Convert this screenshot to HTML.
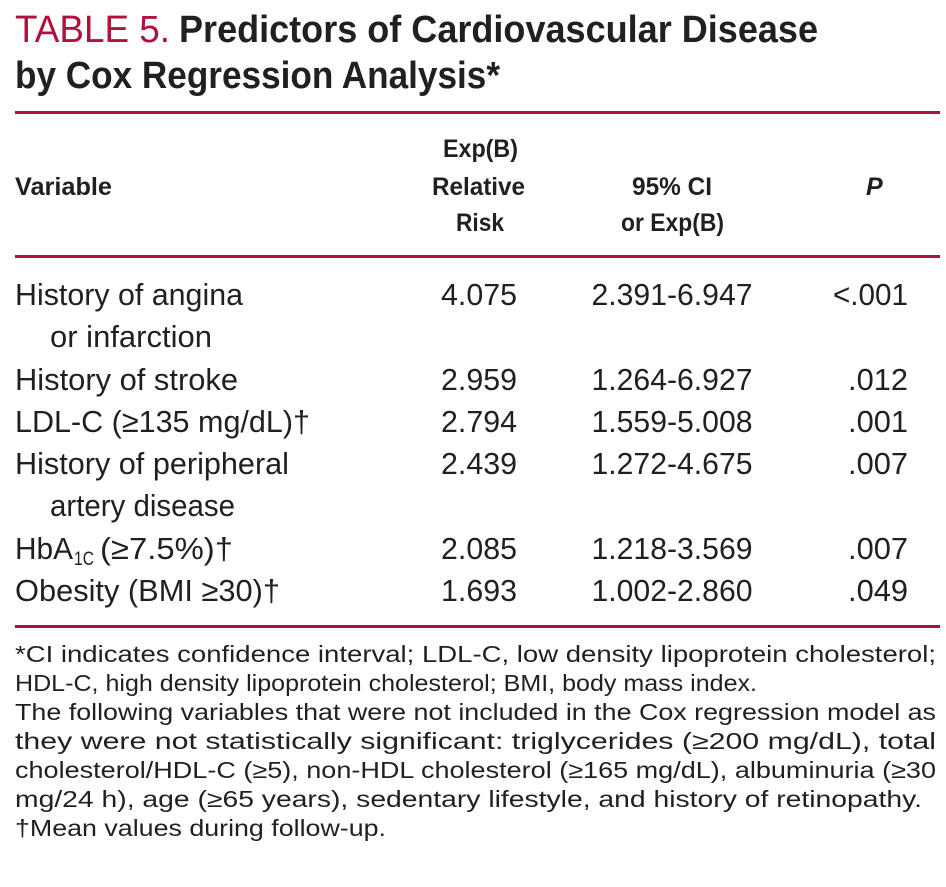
<!DOCTYPE html>
<html><head><meta charset="utf-8"><style>
html,body{margin:0;padding:0;background:#fff}
svg{display:block}
text{font-family:"Liberation Sans",sans-serif;fill:#231f20}
.b{font-weight:bold}
</style></head><body>
<svg id="t" width="946" height="887" viewBox="0 0 946 887">
<text x="15" y="42" font-size="38" textLength="155" lengthAdjust="spacingAndGlyphs" style="fill:#b0103a">TABLE 5.</text>
<text class="b" x="179" y="42" font-size="38" textLength="639" lengthAdjust="spacingAndGlyphs">Predictors of Cardiovascular Disease</text>
<text class="b" x="15" y="88" font-size="38" textLength="485" lengthAdjust="spacingAndGlyphs">by Cox Regression Analysis*</text>
<rect x="15" y="111" width="925" height="3" fill="#b0103a"/>
<text class="b" x="15" y="195" font-size="25" textLength="97" lengthAdjust="spacingAndGlyphs">Variable</text>
<text class="b" x="443" y="157" font-size="25" textLength="75" lengthAdjust="spacingAndGlyphs">Exp(B)</text>
<text class="b" x="432" y="195" font-size="25" textLength="93" lengthAdjust="spacingAndGlyphs">Relative</text>
<text class="b" x="456" y="231" font-size="25" textLength="48" lengthAdjust="spacingAndGlyphs">Risk</text>
<text class="b" x="632" y="195" font-size="25" textLength="80" lengthAdjust="spacingAndGlyphs">95% CI</text>
<text class="b" x="621" y="231" font-size="25" textLength="103" lengthAdjust="spacingAndGlyphs">or Exp(B)</text>
<text class="b" x="866" y="195" font-size="25" font-style="italic">P</text>
<rect x="15" y="255" width="925" height="3" fill="#b0103a"/>
<g id="rows"></g>
<rect x="15" y="625" width="925" height="3" fill="#b0103a"/>
<g id="foot"></g>
</svg>
<script>
const labels=[["History of angina","or infarction"],["History of stroke"],["LDL-C (≥135 mg/dL)†"],["History of peripheral","artery disease"],["HbA|1C| (≥7.5%)†"],["Obesity (BMI ≥30)†"]];
const rr=["4.075","2.959","2.794","2.439","2.085","1.693"];
const ci=["2.391-6.947","1.264-6.927","1.559-5.008","1.272-4.675","1.218-3.569","1.002-2.860"];
const pv=["<.001",".012",".001",".007",".007",".049"];
const labelW=[[228,162],[223],[295],[274,185],[267],[265]];
const foot=["*CI indicates confidence interval; LDL-C, low density lipoprotein cholesterol;","HDL-C, high density lipoprotein cholesterol; BMI, body mass index.","The following variables that were not included in the Cox regression model as","they were not statistically significant: triglycerides (≥200 mg/dL), total","cholesterol/HDL-C (≥5), non-HDL cholesterol (≥165 mg/dL), albuminuria (≥30","mg/24 h), age (≥65 years), sedentary lifestyle, and history of retinopathy.","†Mean values during follow-up."];
const footW=[921,742,921,921,921,907,371];
const NS="http://www.w3.org/2000/svg";
function T(parent,x,y,s,fs,w,anchor){const t=document.createElementNS(NS,"text");t.setAttribute("x",x);t.setAttribute("y",y);t.setAttribute("font-size",fs);if(w){t.setAttribute("textLength",w);t.setAttribute("lengthAdjust","spacingAndGlyphs");}if(anchor)t.setAttribute("text-anchor",anchor);t.textContent=s;parent.appendChild(t);return t;}
const rows=document.getElementById("rows");
let y=305;
labels.forEach((lab,i)=>{
  const g=document.createElementNS(NS,"g");
  
  
  rows.appendChild(g);
  lab.forEach((s,j)=>{
    const yy=y+j*42;
    if(s.includes("|")){
      const p=s.split("|");
      T(g,15,yy,p[0],31,58);
      T(g,74,yy+6,p[1],19,20);
      T(g,100,yy,p[2].trim(),31,133);
    }else{
      const el=T(g,j?50:15,yy,s,31,labelW[i][j]);
      
      
    }
  });
  const a=T(g,479,y,rr[i],31,76,"middle");
  
  
  const b=T(g,672,y,ci[i],31,161,"middle");
  
  
  const c=T(g,908,y,pv[i],31,pv[i].length*15,"end");
  
  
  y+=lab.length*42+(lab.length>1?1:0);
});
const fg=document.getElementById("foot");
foot.forEach((s,i)=>{
  const el=T(fg,15,662+i*29,s,23,footW[i]);
  
  
});
</script>
</body></html>
